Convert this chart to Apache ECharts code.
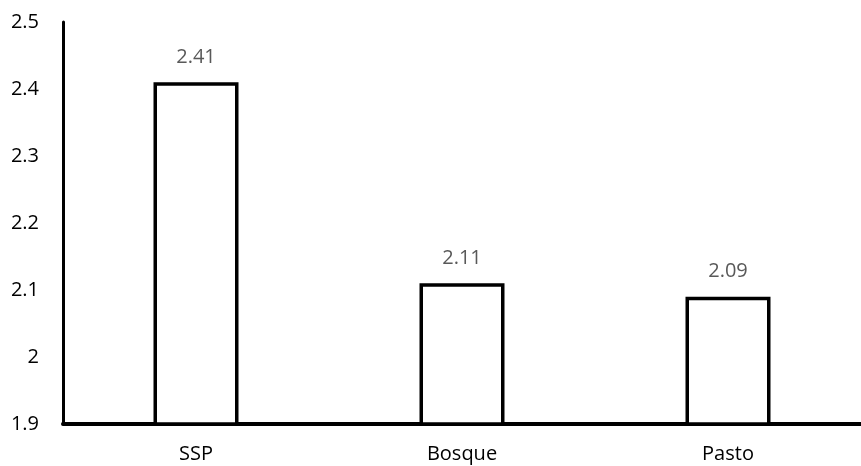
<!DOCTYPE html>
<html><head><meta charset="utf-8">
<script src="https://cdn.jsdelivr.net/npm/echarts@6/dist/echarts.min.js"></script>
<style>html,body{margin:0;padding:0;background:#fff}#c{width:861px;height:466px}</style>
</head><body><div id="c"></div>
<script>
const categories = ['SSP', 'Bosque', 'Pasto'];
const values = [2.41, 2.11, 2.09];
const yTicks = [1.9, 2, 2.1, 2.2, 2.3, 2.4, 2.5];

const chart = echarts.init(document.getElementById('c'), null, {renderer: 'canvas'});
const font = '"Open Sans", sans-serif';
chart.setOption({
  animation: false,
  backgroundColor: '#ffffff',
  grid: {left: 63, right: -13, top: 22, bottom: 42, containLabel: false},
  xAxis: {
    type: 'category', data: categories,
    axisLine: {lineStyle: {color: '#000', width: 4}},
    axisTick: {show: false},
    axisLabel: {color: '#000', fontSize: 20, fontFamily: font, margin: 20}
  },
  yAxis: {
    type: 'value', min: 1.9, max: 2.5, interval: 0.1,
    axisLine: {show: true, lineStyle: {color: '#000', width: 3}},
    axisTick: {show: false},
    splitLine: {show: false},
    axisLabel: {color: '#000', fontSize: 20, fontFamily: font, margin: 24,
      formatter: v => { const t = yTicks.find(x => Math.abs(x - v) < 1e-6); return t === undefined ? '' : String(t); }}
  },
  series: [{
    type: 'bar', data: values, barWidth: 85,
    itemStyle: {color: '#fff', borderColor: '#000', borderWidth: 3.5},
    label: {show: true, position: 'top', distance: 15, color: '#595959', fontSize: 20, fontFamily: font,
      formatter: p => p.value.toFixed(2)}
  }]
});
</script></body></html>
